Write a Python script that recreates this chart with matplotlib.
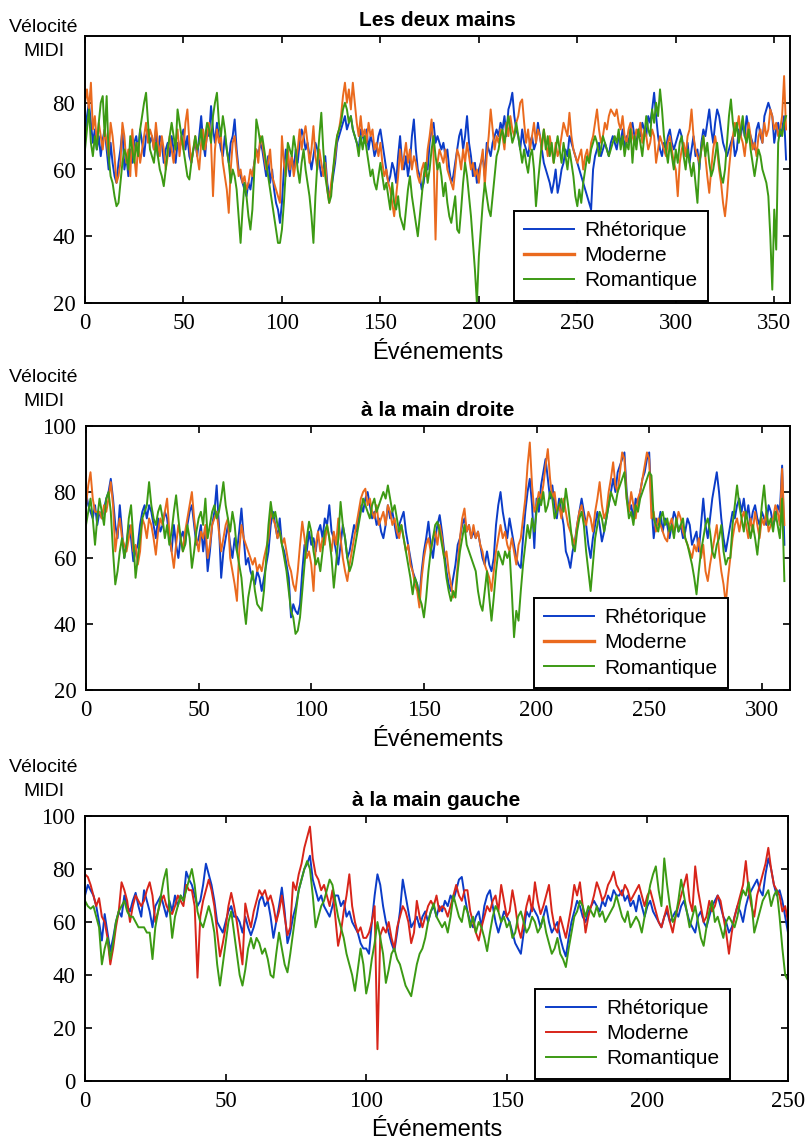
import matplotlib

matplotlib.use("Agg")
import matplotlib.pyplot as plt
import numpy as np

# valeurs (vélocité MIDI par événement)
DEUX_RHET = [
    70, 76, 80, 74, 68, 72, 66, 70, 64, 69, 72, 66, 60, 68, 62, 58, 56, 62, 66, 72,
    60, 64, 58, 66, 62, 68, 70, 66, 72, 68, 64, 70, 72, 68, 70, 66, 72, 64, 70, 68,
    62, 66, 68, 64, 70, 66, 62, 68, 66, 70, 72, 66, 70, 64, 62, 66, 68, 64, 70, 76,
    68, 64, 72, 70, 79, 72, 68, 74, 70, 66, 64, 70, 66, 62, 68, 70, 75, 66, 60, 58,
    56, 54, 52, 56, 54, 58, 62, 66, 64, 68, 66, 62, 58, 64, 56, 60, 54, 50, 48, 44,
    50, 60, 66, 62, 58, 64, 60, 66, 62, 68, 72, 70, 66, 68, 64, 60, 64, 68, 66, 62,
    58, 60, 64, 56, 52, 54, 58, 62, 68, 70, 72, 74, 76, 72, 74, 76, 72, 70, 68, 66,
    72, 70, 68, 72, 66, 70, 68, 64, 66, 70, 72, 68, 64, 60, 56, 58, 62, 60, 56, 64,
    70, 62, 60, 64, 58, 62, 70, 75, 66, 60, 58, 54, 56, 62, 60, 68, 72, 74, 68, 70,
    68, 66, 68, 64, 66, 60, 56, 58, 62, 66, 70, 72, 66, 70, 76, 68, 64, 58, 62, 56,
    60, 62, 64, 58, 68, 66, 64, 68, 70, 72, 70, 74, 72, 76, 70, 78, 80, 83, 76, 72,
    70, 66, 72, 68, 66, 64, 68, 70, 66, 68, 74, 70, 66, 62, 60, 58, 56, 53, 56, 60,
    53, 56, 60, 62, 66, 64, 70, 68, 66, 64, 62, 60, 58, 56, 54, 52, 50, 48, 60, 64,
    66, 68, 64, 66, 68, 66, 64, 68, 70, 68, 66, 70, 68, 72, 66, 70, 68, 72, 74, 70,
    68, 72, 70, 74, 72, 70, 76, 74, 78, 83, 76, 70, 66, 64, 68, 66, 70, 72, 68, 66,
    68, 70, 72, 70, 66, 64, 68, 62, 66, 70, 64, 66, 60, 68, 72, 70, 74, 78, 72, 68,
    74, 78, 76, 72, 68, 66, 64, 66, 68, 70, 64, 66, 72, 70, 74, 70, 76, 72, 70, 68,
    66, 72, 74, 70, 68, 76, 78, 80, 78, 76, 68, 72, 74, 70, 72, 76, 63,
]
DEUX_MOD = [
    80, 84, 78, 86, 72, 76, 68, 74, 70, 66, 72, 68, 64, 74, 70, 64, 56, 58, 62, 74,
    70, 62, 66, 58, 72, 64, 58, 68, 62, 66, 70, 74, 68, 72, 70, 66, 74, 68, 64, 70,
    66, 60, 64, 70, 66, 62, 68, 72, 64, 70, 66, 74, 78, 68, 62, 66, 70, 64, 60, 68,
    72, 66, 70, 74, 68, 52, 66, 72, 68, 70, 62, 58, 54, 47, 60, 68, 70, 64, 58, 60,
    56, 58, 54, 56, 60, 58, 62, 66, 62, 70, 68, 64, 60, 62, 66, 58, 56, 54, 52, 50,
    70, 62, 58, 66, 60, 64, 58, 62, 66, 72, 66, 70, 73, 68, 62, 66, 73, 64, 60, 66,
    62, 58, 62, 54, 50, 56, 60, 64, 70, 72, 76, 82, 86, 80, 84, 78, 86, 80, 74, 70,
    76, 70, 72, 68, 74, 70, 72, 66, 68, 64, 68, 62, 58, 60, 56, 54, 50, 46, 52, 58,
    66, 60, 64, 68, 62, 66, 60, 64, 62, 58, 56, 60, 62, 58, 66, 70, 75, 64, 39, 62,
    66, 64, 62, 66, 60, 58, 56, 54, 60, 66, 64, 60, 66, 62, 68, 64, 60, 62, 58, 60,
    56, 62, 66, 55, 64, 70, 78, 72, 66, 70, 68, 72, 70, 66, 74, 70, 76, 72, 70, 74,
    76, 80, 81, 74, 68, 72, 66, 70, 74, 68, 72, 70, 66, 72, 68, 64, 70, 66, 62, 68,
    64, 66, 70, 74, 72, 70, 77, 70, 66, 64, 62, 64, 66, 60, 64, 66, 62, 68, 70, 74,
    78, 72, 68, 70, 74, 72, 76, 78, 77, 76, 78, 74, 72, 76, 70, 68, 72, 74, 70, 68,
    72, 70, 74, 68, 72, 70, 66, 68, 72, 70, 62, 66, 70, 68, 66, 64, 68, 70, 66, 62,
    60, 52, 62, 66, 68, 64, 70, 72, 78, 70, 66, 64, 62, 66, 70, 64, 58, 53, 60, 66,
    70, 66, 60, 56, 50, 46, 52, 60, 66, 70, 74, 72, 76, 70, 68, 64, 70, 74, 70, 66,
    68, 64, 70, 72, 68, 74, 70, 72, 78, 76, 72, 74, 70, 72, 76, 88, 72,
]
DEUX_ROM = [
    66, 72, 78, 68, 64, 70, 66, 74, 80, 82, 70, 82, 64, 58, 56, 52, 49, 50, 56, 62,
    66, 64, 60, 70, 66, 62, 68, 64, 72, 76, 80, 83, 74, 66, 64, 62, 68, 64, 60, 58,
    55, 60, 66, 70, 74, 70, 66, 78, 74, 70, 66, 62, 58, 57, 62, 66, 70, 66, 68, 72,
    66, 70, 74, 72, 68, 76, 80, 83, 74, 70, 76, 72, 66, 62, 56, 60, 58, 54, 46, 38,
    48, 56, 52, 46, 42, 48, 60, 75, 72, 68, 70, 66, 62, 58, 54, 50, 46, 42, 38, 38,
    42, 50, 60, 68, 66, 64, 70, 66, 60, 56, 62, 66, 60, 56, 52, 46, 38, 52, 62, 70,
    77, 66, 58, 54, 50, 52, 60, 66, 70, 72, 74, 78, 80, 78, 74, 76, 72, 70, 68, 64,
    70, 66, 70, 66, 62, 58, 60, 56, 54, 58, 62, 58, 54, 56, 52, 48, 56, 50, 48, 52,
    46, 44, 42, 48, 54, 58, 52, 48, 44, 40, 46, 52, 58, 62, 56, 60, 66, 70, 64, 60,
    62, 58, 52, 56, 50, 46, 44, 48, 52, 42, 41, 48, 56, 62, 58, 52, 46, 38, 30, 20,
    34, 42, 50, 56, 52, 48, 46, 52, 58, 64, 66, 70, 72, 68, 72, 76, 72, 68, 70, 74,
    70, 66, 62, 66, 62, 59, 64, 66, 60, 49, 56, 62, 68, 72, 66, 70, 64, 68, 62, 66,
    70, 66, 62, 68, 64, 60, 66, 62, 58, 52, 49, 54, 50, 56, 60, 64, 62, 66, 68, 70,
    68, 64, 66, 70, 68, 66, 64, 66, 68, 70, 68, 72, 66, 70, 64, 68, 66, 72, 62, 70,
    66, 72, 68, 64, 70, 76, 72, 70, 78, 74, 80, 76, 84, 78, 70, 66, 62, 68, 64, 60,
    66, 62, 68, 70, 64, 60, 66, 62, 58, 62, 56, 50, 62, 66, 70, 64, 68, 62, 58, 60,
    64, 68, 62, 58, 56, 60, 68, 76, 81, 74, 70, 74, 68, 72, 76, 70, 68, 72, 66, 62,
    58, 62, 66, 64, 60, 58, 56, 52, 40, 24, 48, 36, 68, 72, 70, 74, 76,
]

DROITE_RHET = [
    80, 76, 74, 72, 76, 70, 74, 72, 75, 78, 80, 84, 78, 70, 66, 76, 68, 60, 64, 70,
    66, 59, 62, 64, 70, 74, 76, 72, 76, 74, 70, 66, 72, 68, 70, 74, 72, 66, 62, 70,
    64, 60, 66, 68, 64, 70, 74, 76, 70, 64, 66, 70, 62, 68, 56, 62, 70, 74, 82, 70,
    54, 62, 66, 70, 64, 60, 66, 62, 68, 75, 66, 58, 60, 56, 54, 52, 56, 54, 50, 54,
    58, 62, 70, 74, 70, 66, 72, 64, 62, 58, 54, 42, 46, 44, 43, 46, 56, 64, 62, 68,
    64, 66, 62, 68, 70, 66, 72, 70, 76, 68, 66, 62, 58, 64, 70, 66, 60, 62, 66, 70,
    68, 72, 76, 74, 78, 80, 76, 72, 74, 70, 72, 68, 66, 70, 76, 72, 74, 70, 66, 70,
    72, 74, 68, 64, 60, 56, 54, 52, 48, 56, 62, 66, 71, 64, 60, 66, 70, 73, 68, 62,
    56, 52, 50, 54, 58, 64, 66, 70, 72, 68, 70, 66, 68, 66, 68, 64, 60, 58, 62, 58,
    56, 60, 70, 76, 80, 74, 70, 66, 72, 68, 64, 60, 58, 57, 66, 74, 80, 84, 76, 63,
    78, 74, 82, 86, 90, 84, 78, 82, 76, 72, 78, 74, 70, 62, 60, 57, 62, 65, 70, 74,
    78, 74, 70, 64, 60, 66, 70, 74, 70, 65, 68, 72, 76, 80, 84, 80, 86, 88, 90, 92,
    80, 74, 76, 72, 78, 76, 80, 84, 86, 90, 92, 76, 66, 72, 70, 74, 68, 72, 70, 66,
    70, 74, 72, 68, 70, 66, 68, 72, 70, 64, 66, 68, 62, 70, 78, 70, 66, 72, 78, 82,
    86, 80, 72, 66, 62, 66, 70, 74, 72, 76, 78, 74, 78, 72, 76, 70, 74, 76, 72, 70,
    74, 72, 70, 76, 74, 70, 72, 76, 74, 88, 64,
]
DROITE_MOD = [
    76, 82, 86, 78, 74, 74, 74, 72, 76, 74, 78, 83, 76, 62, 68, 72, 66, 64, 62, 66,
    70, 62, 64, 58, 62, 72, 70, 66, 72, 70, 66, 61, 68, 72, 70, 74, 78, 68, 62, 57,
    64, 70, 66, 62, 68, 72, 76, 80, 72, 66, 62, 68, 66, 70, 60, 64, 70, 72, 74, 68,
    62, 66, 70, 72, 60, 56, 52, 47, 62, 70, 66, 64, 62, 60, 58, 60, 56, 58, 56, 60,
    63, 66, 74, 72, 70, 66, 68, 64, 66, 62, 58, 56, 52, 50, 56, 64, 71, 66, 60, 62,
    58, 50, 64, 68, 62, 66, 64, 70, 66, 62, 68, 64, 72, 66, 60, 56, 53, 58, 62, 66,
    70, 74, 78, 80, 81, 76, 78, 74, 72, 76, 70, 72, 74, 70, 76, 74, 70, 72, 68, 66,
    70, 66, 62, 64, 58, 56, 52, 50, 45, 54, 60, 64, 66, 62, 66, 68, 64, 70, 66, 60,
    62, 56, 52, 48, 50, 58, 66, 72, 75, 68, 70, 66, 70, 66, 68, 64, 62, 58, 56, 54,
    50, 56, 62, 66, 70, 66, 68, 64, 62, 66, 62, 58, 64, 66, 72, 78, 88, 95, 82, 74,
    76, 80, 78, 82, 88, 93, 84, 78, 80, 74, 76, 72, 78, 74, 70, 68, 66, 64, 70, 74,
    76, 72, 70, 74, 72, 68, 74, 78, 83, 76, 72, 74, 80, 84, 89, 82, 80, 86, 92, 90,
    78, 74, 80, 76, 72, 78, 80, 84, 88, 92, 90, 72, 74, 68, 72, 70, 68, 66, 65, 70,
    72, 68, 70, 74, 72, 68, 66, 64, 62, 60, 64, 62, 66, 60, 64, 56, 53, 58, 62, 66,
    70, 62, 56, 52, 46, 54, 60, 66, 70, 72, 68, 72, 74, 70, 66, 72, 68, 74, 70, 66,
    72, 70, 74, 68, 70, 72, 76, 74, 70, 87, 70,
]
DROITE_ROM = [
    70, 74, 78, 72, 64, 72, 78, 74, 70, 78, 80, 74, 62, 52, 56, 62, 66, 60, 64, 72,
    76, 66, 54, 60, 66, 72, 74, 76, 83, 76, 72, 70, 74, 76, 72, 66, 70, 64, 68, 74,
    79, 72, 66, 62, 64, 70, 66, 57, 62, 68, 72, 74, 70, 78, 66, 70, 74, 76, 72, 74,
    78, 83, 76, 72, 68, 74, 70, 62, 58, 54, 46, 40, 48, 52, 56, 50, 46, 45, 44, 50,
    60, 70, 77, 72, 74, 70, 68, 64, 60, 56, 50, 44, 42, 37, 38, 42, 50, 58, 66, 71,
    68, 62, 58, 60, 56, 62, 68, 70, 66, 60, 51, 58, 66, 77, 70, 66, 60, 56, 58, 62,
    66, 70, 74, 78, 76, 74, 72, 76, 78, 74, 76, 78, 80, 78, 82, 78, 74, 76, 72, 68,
    70, 66, 62, 58, 54, 49, 54, 52, 48, 46, 42, 48, 56, 62, 66, 70, 71, 68, 64, 60,
    54, 50, 47, 50, 48, 56, 62, 66, 70, 64, 62, 60, 58, 56, 50, 46, 44, 50, 56, 48,
    41, 48, 56, 62, 60, 58, 62, 60, 62, 50, 36, 44, 41, 50, 58, 64, 70, 66, 72, 68,
    74, 78, 76, 80, 74, 76, 80, 78, 72, 74, 76, 78, 74, 81, 76, 70, 64, 62, 68, 72,
    74, 70, 62, 56, 50, 58, 66, 70, 74, 72, 68, 72, 76, 80, 78, 76, 80, 82, 84, 86,
    78, 72, 74, 70, 76, 74, 78, 80, 82, 84, 86, 85, 72, 70, 68, 72, 74, 70, 72, 68,
    70, 66, 72, 68, 70, 72, 66, 64, 61, 58, 54, 49, 56, 62, 66, 70, 72, 68, 62, 60,
    64, 66, 70, 62, 58, 60, 60, 70, 76, 82, 76, 72, 68, 74, 70, 66, 70, 66, 61, 68,
    76, 82, 74, 70, 72, 68, 74, 70, 66, 78, 53,
]

GAUCHE_RHET = [
    70, 74, 72, 70, 66, 60, 53, 63, 56, 49, 54, 60, 64, 62, 70, 66, 64, 68, 71, 66,
    62, 72, 68, 64, 58, 66, 68, 70, 66, 62, 68, 64, 70, 66, 70, 68, 79, 76, 74, 70,
    66, 68, 74, 82, 78, 74, 68, 60, 58, 56, 60, 64, 66, 62, 62, 60, 56, 62, 58, 55,
    58, 62, 68, 70, 66, 68, 62, 54, 60, 66, 73, 64, 52, 56, 62, 66, 72, 76, 80, 82,
    85, 76, 72, 68, 70, 66, 64, 62, 66, 70, 70, 66, 68, 62, 64, 60, 58, 56, 52, 50,
    50, 48, 60, 70, 78, 74, 66, 60, 56, 52, 49, 56, 64, 76, 70, 64, 58, 60, 62, 58,
    62, 64, 60, 64, 66, 62, 66, 64, 68, 66, 70, 68, 72, 76, 77, 70, 64, 60, 58, 62,
    64, 58, 66, 70, 72, 66, 60, 56, 60, 64, 62, 60, 56, 52, 50, 48, 56, 64, 62, 66,
    64, 62, 58, 62, 66, 60, 56, 58, 60, 54, 50, 47, 54, 60, 64, 68, 66, 62, 60, 64,
    66, 68, 66, 64, 68, 66, 70, 68, 72, 70, 70, 72, 68, 70, 66, 68, 64, 70, 66, 62,
    66, 68, 64, 62, 60, 58, 62, 64, 60, 62, 64, 62, 66, 68, 64, 60, 58, 56, 62, 64,
    60, 58, 62, 66, 68, 70, 66, 62, 60, 56, 58, 62, 66, 64, 60, 66, 70, 72, 74, 76,
    72, 70, 78, 84, 80, 74, 70, 72, 68, 62, 56,
]
GAUCHE_MOD = [
    78, 77, 74, 70, 66, 69, 62, 60, 54, 44, 50, 58, 64, 75, 72, 68, 60, 66, 70, 68,
    66, 68, 72, 75, 70, 60, 64, 68, 70, 66, 64, 63, 66, 70, 68, 66, 74, 72, 72, 66,
    39, 62, 68, 72, 76, 72, 66, 56, 47, 52, 58, 66, 71, 66, 60, 52, 44, 67, 62, 58,
    64, 68, 72, 70, 72, 68, 70, 66, 60, 64, 70, 62, 55, 58, 75, 72, 78, 82, 88, 92,
    96, 84, 78, 76, 72, 74, 70, 66, 72, 62, 51, 56, 64, 70, 78, 66, 60, 56, 58, 54,
    54, 56, 60, 66, 12, 55, 58, 56, 60, 54, 50, 58, 62, 66, 64, 60, 52, 56, 68, 62,
    58, 62, 66, 68, 66, 70, 64, 66, 65, 62, 66, 70, 74, 70, 68, 72, 72, 64, 60, 56,
    53, 58, 62, 66, 64, 68, 70, 64, 74, 68, 62, 64, 72, 66, 58, 54, 60, 66, 70, 64,
    75, 68, 63, 66, 70, 74, 64, 58, 56, 62, 58, 54, 60, 66, 74, 70, 75, 66, 56, 62,
    66, 70, 75, 72, 68, 70, 74, 76, 79, 74, 72, 70, 74, 72, 68, 70, 72, 74, 70, 66,
    70, 72, 68, 64, 60, 58, 62, 66, 60, 56, 62, 66, 70, 74, 78, 68, 64, 81, 72, 66,
    60, 62, 68, 64, 66, 70, 68, 62, 56, 48, 56, 62, 66, 70, 74, 83, 72, 66, 62, 70,
    74, 78, 82, 88, 80, 74, 72, 70, 64, 66, 60,
]
GAUCHE_ROM = [
    68, 66, 65, 66, 62, 58, 44, 50, 54, 46, 52, 60, 64, 66, 68, 64, 62, 62, 60, 58,
    58, 58, 56, 56, 46, 58, 64, 70, 76, 80, 66, 54, 62, 66, 70, 68, 72, 76, 80, 74,
    64, 60, 58, 62, 66, 62, 56, 44, 36, 44, 52, 60, 64, 56, 48, 40, 36, 42, 50, 54,
    50, 54, 52, 48, 50, 46, 40, 39, 48, 56, 50, 44, 41, 48, 56, 64, 72, 76, 80, 83,
    80, 70, 58, 62, 66, 68, 72, 76, 74, 68, 62, 58, 54, 48, 44, 40, 34, 42, 50, 44,
    33, 38, 46, 52, 60, 54, 48, 37, 42, 48, 50, 46, 44, 40, 36, 34, 32, 38, 44, 48,
    50, 54, 60, 64, 67, 62, 60, 58, 60, 56, 62, 70, 66, 62, 60, 66, 64, 58, 62, 56,
    60, 58, 54, 49, 56, 62, 66, 64, 60, 62, 58, 60, 54, 56, 62, 64, 60, 56, 58, 62,
    60, 56, 58, 62, 56, 52, 48, 50, 54, 48, 46, 43, 50, 56, 62, 64, 68, 66, 62, 66,
    64, 62, 66, 62, 64, 60, 62, 64, 66, 70, 66, 62, 60, 64, 58, 60, 62, 60, 56, 62,
    68, 74, 78, 81, 72, 66, 84, 74, 66, 60, 62, 68, 76, 70, 64, 58, 62, 66, 60, 54,
    51, 58, 64, 68, 60, 62, 58, 54, 60, 62, 60, 58, 62, 68, 72, 70, 75, 68, 56, 60,
    64, 68, 70, 72, 66, 70, 72, 62, 50, 40, 38,
]

SERIES_NAMES = ["Rhétorique", "Moderne", "Romantique"]
TITLES = ["Les deux mains", "à la main droite", "à la main gauche"]

BLUE = "#0b3cc8"
ORANGE = "#ea6a1e"
RED = "#d8251a"
GREEN = "#3c9a14"

SERIF = ["Liberation Serif", "DejaVu Serif"]
SANS = ["Liberation Sans", "DejaVu Sans"]

W, H = 806, 1142
fig = plt.figure(figsize=(W / 100, H / 100), dpi=100)


def px_axes(left, top, right, bottom):
    return fig.add_axes([left / W, 1 - bottom / H, (right - left) / W, (bottom - top) / H])


panels = [
    dict(box=(85, 36, 790, 303), data=(DEUX_RHET, DEUX_MOD, DEUX_ROM),
         colors=(BLUE, ORANGE, GREEN), xlim=358, ylim=(20, 100),
         yticks=[20, 40, 60, 80], xticks=range(0, 351, 50),
         title_y=21, ylab_y=(27, 52), xlab_y=353, leg_x=0.887),
    dict(box=(86, 426, 790, 690), data=(DROITE_RHET, DROITE_MOD, DROITE_ROM),
         colors=(BLUE, ORANGE, GREEN), xlim=312.5, ylim=(20, 100),
         yticks=[20, 40, 60, 80, 100], xticks=range(0, 301, 50),
         title_y=410, ylab_y=(378, 402), xlab_y=740, leg_x=0.915),
    dict(box=(85, 816, 788, 1081), data=(GAUCHE_RHET, GAUCHE_MOD, GAUCHE_ROM),
         colors=(BLUE, RED, GREEN), xlim=250, ylim=(0, 100),
         yticks=[0, 20, 40, 60, 80, 100], xticks=range(0, 251, 50),
         title_y=800, ylab_y=(768, 792), xlab_y=1130, leg_x=0.92),
]

for i, p in enumerate(panels):
    ax = px_axes(*p["box"])
    for vals, col, name in zip(p["data"], p["colors"], SERIES_NAMES):
        ax.plot(np.arange(len(vals)), vals, color=col, lw=1.4, label=name)
    ax.set_xlim(0, p["xlim"])
    ax.set_ylim(*p["ylim"])
    ax.set_xticks(list(p["xticks"]))
    ax.set_yticks(p["yticks"])
    ax.tick_params(direction="in", top=True, right=True, length=5, width=1.2,
                   labelsize=16.5, pad=7)
    for lab in ax.get_xticklabels() + ax.get_yticklabels():
        lab.set_family(SERIF)
    for s in ax.spines.values():
        s.set_linewidth(1.4)

    leg = ax.legend(loc="lower right", bbox_to_anchor=(p["leg_x"], 0.0),
                    borderaxespad=0.1, fancybox=False, framealpha=1,
                    edgecolor="black", handlelength=2.4, handletextpad=0.5,
                    labelspacing=0.3, borderpad=0.5,
                    prop={"family": SANS, "size": 15})
    leg.get_frame().set_linewidth(1.4)
    if i < 2:
        leg.get_lines()[1].set_linewidth(2.4)

    cx = (p["box"][0] + p["box"][2]) / 2 / W
    fig.text(cx, 1 - p["title_y"] / H, TITLES[i], ha="center", va="center",
             fontsize=15, fontweight="bold", family=SANS)
    fig.text(cx, 1 - p["xlab_y"] / H, "Événements", ha="center", va="center",
             fontsize=17, family=SANS)
    fig.text(44 / W, 1 - p["ylab_y"][0] / H, "Vélocité", ha="center", va="center",
             fontsize=14, family=SANS)
    fig.text(44 / W, 1 - p["ylab_y"][1] / H, "MIDI", ha="center", va="center",
             fontsize=14, family=SANS)

fig.savefig("out.png", dpi=100)
